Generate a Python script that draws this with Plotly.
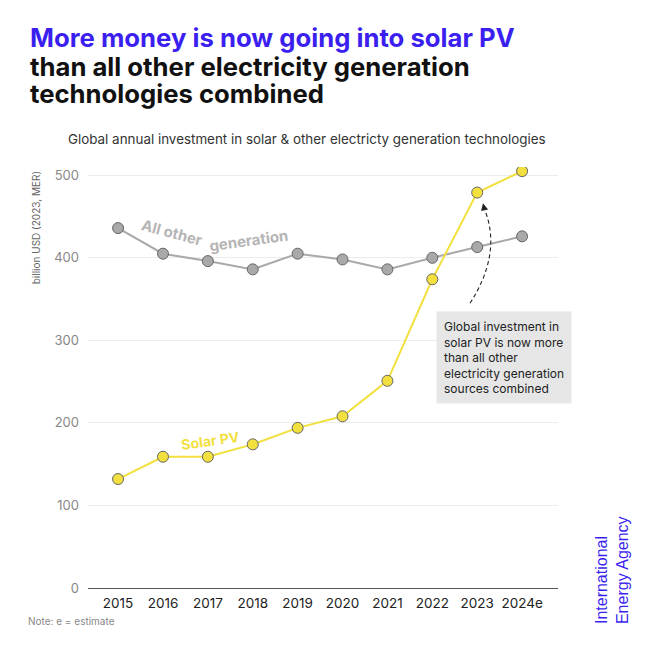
import plotly.graph_objects as go

years = ["2015", "2016", "2017", "2018", "2019", "2020", "2021", "2022", "2023", "2024e"]
solar_pv = [132, 159, 159, 174, 194, 208, 251, 374, 479, 505]
other_gen = [436, 405, 396, 386, 405, 398, 386, 400, 413, 426]
y_ticks = [0, 100, 200, 300, 400, 500]

YELLOW = "#f2e03f"
GRAY = "#a9a9a9"
BLUE = "#3b1ff0"
FONT = "Inter"

fig = go.Figure()
fig.add_trace(go.Scatter(
    x=years, y=other_gen, mode="lines+markers",
    line=dict(color=GRAY, width=2),
    marker=dict(size=11, color=GRAY, line=dict(color="#666666", width=1)),
    showlegend=False, hoverinfo="skip"))
fig.add_trace(go.Scatter(
    x=years, y=solar_pv, mode="lines+markers",
    line=dict(color=YELLOW, width=2),
    marker=dict(size=11, color=YELLOW, line=dict(color="#666666", width=1)),
    showlegend=False, hoverinfo="skip"))

fig.update_layout(
    width=651, height=650,
    margin=dict(l=88, r=93, t=167, b=62),
    paper_bgcolor="white", plot_bgcolor="white",
    font=dict(family=FONT),
    xaxis=dict(type="category", range=[-0.67, 9.8], showgrid=False,
               tickfont=dict(size=13.5, color="#222222"), ticks="",
               showline=False, zeroline=False, ticklabelstandoff=5),
    yaxis=dict(range=[0, 510], tickvals=y_ticks, showgrid=True,
               gridcolor="#ececec", gridwidth=1, zeroline=True,
               zerolinecolor="#555555", zerolinewidth=1,
               tickfont=dict(size=13, color="#888888"), ticks="",
               ticklabelstandoff=8),
)

# Titles (one annotation per line for tight line spacing)
title_lines = [
    ("More money is now going into solar PV", BLUE, 37),
    ("than all other electricity generation", "#111111", 66),
    ("technologies combined", "#111111", 93),
]
for txt, col, ypx in title_lines:
    fig.add_annotation(
        xref="paper", yref="paper", x=(28 - 88) / 470, y=(588 - ypx) / 421,
        xanchor="left", yanchor="middle", align="left", showarrow=False,
        text="<b>%s</b>" % txt, font=dict(size=25.7, color=col, family=FONT))

fig.add_annotation(
    xref="paper", yref="paper", x=(307 - 88) / 470, y=(588 - 139) / 421,
    xanchor="center", yanchor="middle", showarrow=False,
    text="Global annual investment in solar & other electricty generation technologies",
    font=dict(size=13.4, color="#333333", family=FONT))

# y-axis title
fig.add_annotation(
    xref="paper", yref="paper", x=-0.11, y=(588 - 228) / 421, xanchor="center", yanchor="middle",
    showarrow=False, textangle=-90,
    text="billion USD (2023, MER)", font=dict(size=10, color="#666666", family=FONT))

# Series labels
fig.add_annotation(xref="x", yref="y", x=1.2, y=431, text="<b>All other</b>",
                   showarrow=False, textangle=15, font=dict(size=15, color="#b5b5b5", family=FONT))
fig.add_annotation(xref="x", yref="y", x=2.9, y=421, text="<b>generation</b>",
                   showarrow=False, textangle=-8, font=dict(size=15, color="#b5b5b5", family=FONT))
fig.add_annotation(xref="x", yref="y", x=2.05, y=179, text="<b>Solar PV</b>",
                   showarrow=False, textangle=-8, font=dict(size=14, color=YELLOW, family=FONT))

# Callout box
fig.add_annotation(
    xref="x", yref="y", x=7.08, y=335, xanchor="left", yanchor="top", align="left",
    showarrow=False, bgcolor="#e6e6e6", borderpad=7,
    text="Global investment in<br>solar PV is now more<br>than all other<br>electricity generation<br>sources combined",
    font=dict(size=12, color="#222222", family=FONT))

# Curved dashed arrow
fig.add_shape(type="path", xref="x", yref="y",
              path="M 7.84 345 Q 8.55 405 8.17 458",
              line=dict(color="#222222", width=1.1, dash="4px,3px"))
fig.add_annotation(xref="x", yref="y", x=8.13, y=466, axref="x", ayref="y",
                   ax=8.17, ay=456, showarrow=True, arrowhead=2, arrowsize=1.2,
                   arrowwidth=1.2, arrowcolor="#222222", text="")

# Note
fig.add_annotation(xref="paper", yref="paper", x=-0.131, y=(588 - 621) / 421, xanchor="left", yanchor="middle",
                   showarrow=False, text="Note: e = estimate",
                   font=dict(size=10, color="#888888", family=FONT))

# IEA vertical logo
fig.add_annotation(xref="paper", yref="paper", x=1.115, y=(588 - 626) / 421, xanchor="center", yanchor="bottom",
                   showarrow=False, textangle=-90, align="left",
                   text="International<br>Energy Agency",
                   font=dict(size=16, color=BLUE, family="Liberation Sans"))

fig.write_html("out.html")
